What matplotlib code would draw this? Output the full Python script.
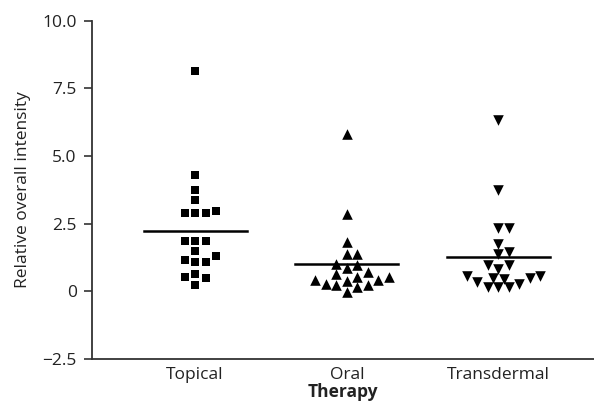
import numpy as np
import matplotlib
matplotlib.use("Agg")
import matplotlib.pyplot as plt

plt.rcParams['font.family'] = ['Open Sans', 'DejaVu Sans']

# relative overall intensity per patient, grouped by therapy
therapies = ['Topical', 'Oral', 'Transdermal']
topical = [8.16, 4.29, 3.73, 3.36, 2.89, 2.89, 2.89, 2.95, 1.87, 1.87, 1.87,
           1.48, 1.29, 1.07, 1.07, 1.17, 0.50, 0.52, 0.62, 0.21]
oral = [5.83, 2.84, 1.81, 1.36, 1.36, 0.95, 1.01, 0.86, 0.70, 0.62, 0.52,
        0.52, 0.42, 0.37, 0.42, 0.27, 0.21, 0.14, 0.21, -0.04]
transdermal = [6.32, 3.73, 2.35, 2.35, 1.75, 1.44, 1.36, 0.95, 0.95, 0.83,
               0.55, 0.55, 0.46, 0.33, 0.14, 0.14, 0.14, 0.27, 0.49, 0.49]
yticks = [-2.5, 0, 2.5, 5.0, 7.5, 10.0]
ytick_labels = ['\u22122.5', '0', '2.5', '5.0', '7.5', '10.0']

groups = [topical, oral, transdermal]
markers = ['s', '^', 'v']
sizes = [38, 58, 58]


def swarm_offsets(values, diam, px_x, px_y):
    """Simple beeswarm: shift each point sideways until it no longer overlaps."""
    values = np.asarray(values, dtype=float)
    placed = []
    offsets = np.zeros(len(values))
    steps = [0]
    for k in range(1, 20):
        steps += [k * 0.5, -k * 0.5]
    for i in np.argsort(values):
        y = values[i] * px_y
        for s in steps:
            x = s * diam
            if all((x - px) ** 2 + (y - py) ** 2 >= (0.95 * diam) ** 2
                   for px, py in placed):
                break
        placed.append((x, y))
        offsets[i] = x / px_x
    return offsets


fig = plt.figure(figsize=(5.94, 4.09), dpi=100)
ax = fig.add_axes([0.155, 0.123, 0.845, 0.826])
xlim = (-0.68, 2.63)
ylim = (-2.5, 10.0)
ax.set_xlim(*xlim)
ax.set_ylim(*ylim)

w_px = 0.845 * 594
h_px = 0.826 * 409
px_x = w_px / (xlim[1] - xlim[0])
px_y = h_px / (ylim[1] - ylim[0])

for i, vals in enumerate(groups):
    off = swarm_offsets(vals, 10.5, px_x, px_y)
    ax.scatter(i + off, vals, marker=markers[i], s=sizes[i], color='black',
               linewidths=0, zorder=3)
    m = np.mean(vals)
    ax.plot([i - 0.34, i + 0.34], [m, m], color='black', lw=1.8, zorder=2)

ax.spines['top'].set_visible(False)
ax.spines['right'].set_visible(False)
for side in ['left', 'bottom']:
    ax.spines[side].set_color('#333333')
    ax.spines[side].set_linewidth(1.3)

ax.set_yticks(yticks)
ax.set_yticklabels(ytick_labels)
ax.set_xticks(range(len(therapies)))
ax.set_xticklabels(therapies)
ax.tick_params(axis='y', length=6, width=1.2, color='#333333',
               labelsize=12.5, labelcolor='#222222', pad=5)
ax.tick_params(axis='x', length=0, labelsize=12.5, labelcolor='#222222', pad=6)

ax.set_ylabel('Relative overall intensity', fontsize=12.5, color='#222222',
              labelpad=8)
ax.set_xlabel('Therapy', fontsize=12.5, fontweight='bold', color='#222222',
              labelpad=0)

fig.savefig('out.png', dpi=100)
